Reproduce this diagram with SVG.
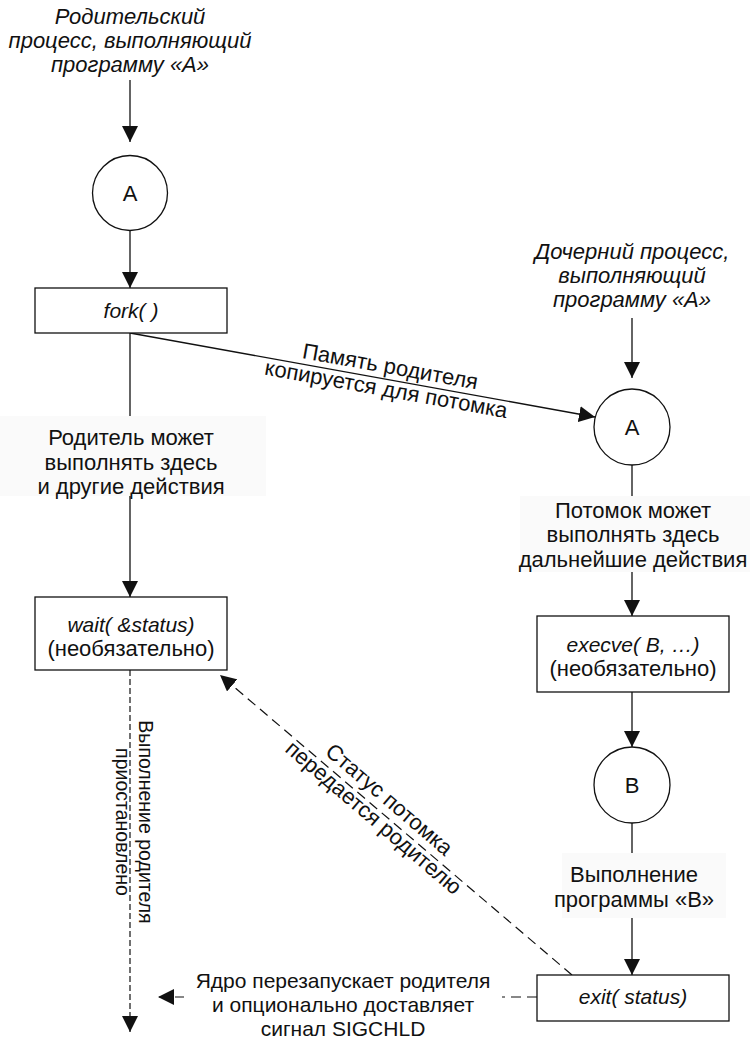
<svg xmlns="http://www.w3.org/2000/svg" width="750" height="1041" viewBox="0 0 750 1041">
<style>
text{font-family:"Liberation Sans",Arial,sans-serif;font-size:22px;fill:#111;text-anchor:middle}
.it{font-style:italic}
.bi{font-style:italic;font-size:21px}
.sm{font-size:21px}
.vt{font-size:19.5px}
.box{fill:#fff;stroke:#111;stroke-width:1.3}
.ln{fill:none;stroke:#111;stroke-width:1.3}
.dash{fill:none;stroke:#111;stroke-width:1.2;stroke-dasharray:10 6}
.dash2{fill:none;stroke:#111;stroke-width:1.2;stroke-dasharray:6 3}
.bg{fill:#fafafa}
</style>
<defs>
<marker id="ah" viewBox="0 0 16 16" refX="16" refY="8" markerWidth="16" markerHeight="16" markerUnits="userSpaceOnUse" orient="auto">
<path d="M0,0 L16,8 L0,16 Z" fill="#111"/>
</marker>
</defs>

<g id="connectors">
<line class="ln" x1="130" y1="80" x2="130" y2="142" marker-end="url(#ah)"/>
<line class="ln" x1="130" y1="230" x2="130" y2="288" marker-end="url(#ah)"/>
<line class="ln" x1="130" y1="333" x2="130" y2="597" marker-end="url(#ah)"/>
<line class="ln" x1="130" y1="333" x2="595" y2="417" marker-end="url(#ah)"/>
<line class="ln" x1="632" y1="318" x2="632" y2="378" marker-end="url(#ah)"/>
<line class="ln" x1="632" y1="465" x2="632" y2="616" marker-end="url(#ah)"/>
<line class="ln" x1="632" y1="692" x2="632" y2="747" marker-end="url(#ah)"/>
<line class="ln" x1="632" y1="823" x2="632" y2="975" marker-end="url(#ah)"/>
<line class="dash2" x1="130" y1="670" x2="130" y2="1032" marker-end="url(#ah)"/>
<line class="dash" x1="572" y1="975" x2="220" y2="675" marker-end="url(#ah)"/>
<line class="dash" x1="537" y1="997" x2="158" y2="997" marker-end="url(#ah)"/>
</g>

<g id="label-parent-start">
<text class="it" x="130" y="24">Родительский</text>
<text class="it" x="130" y="48">процесс, выполняющий</text>
<text class="it" x="130" y="72">программу «А»</text>
</g>

<g id="node-a-parent">
<circle class="box" cx="130" cy="193" r="37.5"/>
<text x="130" y="201">A</text>
</g>

<g id="node-fork">
<rect class="box" x="35" y="288" width="192" height="45"/>
<text class="bi" x="131" y="318">fork( )</text>
</g>

<g id="label-copy">
<g transform="translate(389,373.7) rotate(10.2)">
<text x="0" y="0">Память родителя</text>
<text x="0" y="23">копируется для потомка</text>
</g>
</g>

<g id="label-parent-other">
<rect class="bg" x="0" y="416" width="266" height="80"/>
<text x="131" y="445">Родитель может</text>
<text x="131" y="470">выполнять здесь</text>
<text x="131" y="494">и другие действия</text>
</g>

<g id="node-wait">
<rect class="box" x="35" y="597" width="192" height="73"/>
<text class="bi" x="131" y="632">wait( &amp;status)</text>
<text x="131" y="656">(необязательно)</text>
</g>

<g id="label-child-start">
<text class="it" x="632" y="259">Дочерний процесс,</text>
<text class="it" x="632" y="283">выполняющий</text>
<text class="it" x="632" y="307">программу «А»</text>
</g>

<g id="node-a-child">
<circle class="box" cx="632" cy="427" r="38"/>
<text x="632" y="435">A</text>
</g>

<g id="label-child-other">
<rect class="bg" x="520" y="496" width="230" height="76"/>
<text x="633" y="518">Потомок может</text>
<text x="633" y="542">выполнять здесь</text>
<text x="633" y="567">дальнейшие действия</text>
</g>

<g id="node-execve">
<rect class="box" x="537" y="616" width="192" height="76"/>
<text class="bi" x="633" y="652">execve( B, …)</text>
<text x="633" y="676">(необязательно)</text>
</g>

<g id="node-b">
<circle class="box" cx="632" cy="785" r="38"/>
<text x="632" y="793">B</text>
</g>

<g id="label-exec-b">
<rect class="bg" x="562" y="853" width="164" height="65"/>
<text x="634" y="882">Выполнение</text>
<text x="634" y="907">программы «В»</text>
</g>

<g id="node-exit">
<rect class="box" x="537" y="975" width="192" height="46"/>
<text class="bi" x="633" y="1004">exit( status)</text>
</g>

<g id="label-status">
<g transform="translate(384.5,805) rotate(40.5)">
<text x="0" y="0">Статус потомка</text>
<text x="0" y="24">передается родителю</text>
</g>
</g>

<g id="label-suspended">
<g transform="translate(139,822) rotate(90)">
<text class="vt" x="0" y="0">Выполнение родителя</text>
<text class="vt" x="0" y="23">приостановлено</text>
</g>
</g>

<g id="label-kernel">
<rect fill="#fff" x="184" y="975" width="318" height="66"/>
<text class="sm" x="343" y="988">Ядро перезапускает родителя</text>
<text class="sm" x="343" y="1012">и опционально доставляет</text>
<text class="sm" x="343" y="1036">сигнал SIGCHLD</text>
</g>
</svg>
